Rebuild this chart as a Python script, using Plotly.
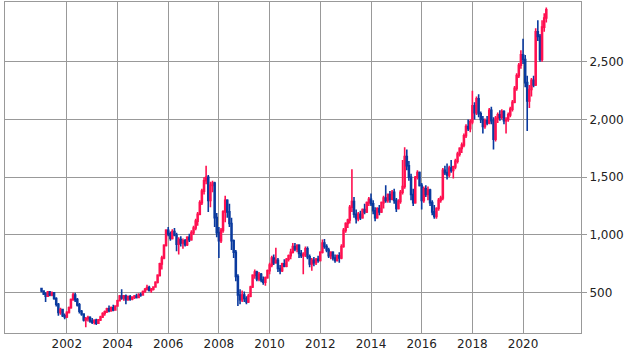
import pandas as pd
import plotly.graph_objects as go

# Monthly OHLC, Jan 2001 .. Dec 2020 (one row per year)
opens = [
    535, 515, 490, 470, 505, 480, 500, 450, 400, 330, 355, 300,
    290, 330, 370, 440, 480, 440, 395, 340, 315, 265, 275, 285,
    255, 245, 260, 235, 265, 290, 320, 335, 360, 345, 370, 350,
    385, 430, 470, 455, 470, 440, 465, 445, 460, 470, 460, 485,
    480, 510, 530, 545, 520, 530, 550, 590, 650, 750, 800, 910,
    1040, 1010, 970, 1030, 1000, 920, 960, 930, 950, 915, 980, 960,
    1020, 1060, 1120, 1180, 1280, 1380, 1470, 1500, 1300, 1430, 1450, 1150,
    1020, 950, 1040, 1200, 1300, 1200, 1100, 950, 850, 640, 480, 440,
    480, 450, 420, 470, 550, 650, 680, 620, 660, 610, 590, 630,
    690, 740, 800, 760, 780, 710, 690, 750, 730, 790, 820, 850,
    900, 880, 910, 840, 820, 830, 880, 810, 750, 780, 760, 790,
    780, 850, 930, 900, 870, 820, 850, 800, 780, 820, 800, 900,
    1040, 1100, 1130, 1240, 1290, 1180, 1140, 1180, 1150, 1220, 1200, 1280,
    1310, 1270, 1210, 1150, 1230, 1200, 1280, 1320, 1300, 1350, 1310, 1370,
    1300, 1230, 1290, 1370, 1420, 1680, 1600, 1500, 1350, 1280, 1500, 1540,
    1430, 1300, 1400, 1350, 1390, 1280, 1200, 1160, 1230, 1300, 1320, 1560,
    1540, 1520, 1580, 1560, 1590, 1640, 1700, 1750, 1780, 1860, 1940, 1920,
    1980, 2120, 2060, 2180, 2050, 2000, 1940, 1990, 1970, 2080, 1990, 1830,
    2010, 2040, 2020, 2070, 1990, 2000, 2040, 2090, 2150, 2270, 2380, 2470,
    2560, 2520, 2320, 2160, 2260, 2340, 2300, 2760, 2720, 2520, 2800, 2880,
]
highs = [
    540, 520, 505, 515, 515, 510, 505, 460, 410, 370, 360, 320,
    340, 380, 450, 500, 500, 455, 410, 350, 320, 290, 300, 295,
    280, 270, 275, 270, 300, 330, 345, 370, 390, 380, 395, 390,
    440, 480, 530, 480, 485, 475, 480, 470, 480, 490, 495, 500,
    520, 540, 570, 560, 540, 555, 600, 660, 760, 820, 920, 1050,
    1070, 1030, 1050, 1060, 1020, 980, 990, 970, 965, 990, 1010, 1040,
    1080, 1140, 1200, 1300, 1400, 1500, 1600, 1520, 1460, 1470, 1460, 1190,
    1070, 1060, 1215, 1340, 1310, 1270, 1150, 960, 870, 660, 530, 520,
    510, 470, 490, 560, 660, 700, 690, 680, 670, 640, 640, 700,
    760, 820, 830, 890, 800, 740, 760, 790, 800, 830, 880, 930,
    930, 920, 920, 870, 850, 900, 900, 830, 800, 810, 800, 820,
    860, 960, 965, 920, 890, 860, 860, 830, 830, 850, 920, 1060,
    1110, 1140, 1260, 1570, 1330, 1220, 1200, 1210, 1230, 1270, 1290, 1330,
    1360, 1300, 1240, 1240, 1260, 1290, 1340, 1430, 1360, 1380, 1390, 1400,
    1320, 1310, 1390, 1650, 1760, 1740, 1640, 1530, 1400, 1510, 1560, 1550,
    1450, 1420, 1430, 1420, 1400, 1300, 1260, 1240, 1320, 1340, 1580, 1600,
    1620, 1600, 1650, 1600, 1660, 1720, 1760, 1800, 1880, 1960, 2000, 2000,
    2250, 2150, 2200, 2220, 2070, 2030, 2010, 2030, 2100, 2110, 2020, 2030,
    2060, 2080, 2090, 2080, 2020, 2060, 2110, 2170, 2290, 2400, 2490, 2600,
    2700, 2560, 2380, 2300, 2360, 2380, 2790, 2860, 2740, 2860, 2920, 2970,
]
lows = [
    505, 480, 420, 465, 470, 470, 440, 380, 300, 310, 290, 270,
    280, 320, 360, 430, 420, 380, 320, 300, 250, 200, 250, 240,
    230, 225, 220, 230, 255, 280, 300, 325, 330, 335, 340, 345,
    380, 425, 440, 430, 400, 430, 430, 435, 445, 450, 455, 465,
    475, 500, 520, 510, 500, 520, 545, 580, 640, 700, 790, 900,
    990, 950, 960, 990, 860, 830, 900, 880, 900, 905, 940, 950,
    1000, 1040, 1080, 1170, 1260, 1350, 1440, 1200, 1240, 1370, 1070, 980,
    800, 930, 1020, 1110, 1150, 1070, 870, 800, 600, 385, 400, 420,
    420, 400, 410, 460, 540, 620, 600, 600, 590, 570, 560, 620,
    660, 720, 740, 750, 680, 660, 680, 720, 720, 770, 790, 840,
    860, 850, 800, 800, 660, 810, 790, 720, 690, 730, 740, 760,
    770, 840, 880, 850, 800, 790, 780, 760, 770, 760, 790, 890,
    1020, 1060, 1100, 1200, 1150, 1100, 1120, 1130, 1140, 1180, 1190, 1250,
    1250, 1180, 1120, 1140, 1170, 1190, 1230, 1280, 1280, 1280, 1300, 1270,
    1200, 1220, 1270, 1350, 1400, 1560, 1470, 1300, 1250, 1270, 1480, 1420,
    1220, 1280, 1330, 1300, 1250, 1170, 1140, 1140, 1210, 1280, 1300, 1520,
    1480, 1500, 1540, 1490, 1570, 1620, 1680, 1710, 1760, 1840, 1900, 1890,
    1960, 2000, 2040, 2020, 1970, 1880, 1920, 1950, 1960, 1960, 1740, 1810,
    1970, 1990, 2000, 1960, 1880, 1980, 2020, 2070, 2140, 2250, 2360, 2440,
    2480, 2280, 1900, 2100, 2200, 2280, 2290, 2680, 2500, 2500, 2760, 2840,
]
closes = [
    515, 490, 470, 505, 480, 500, 450, 400, 330, 355, 300, 290,
    330, 370, 440, 480, 440, 395, 340, 315, 265, 275, 285, 255,
    245, 260, 235, 265, 290, 320, 335, 360, 345, 370, 350, 385,
    430, 470, 455, 470, 440, 465, 445, 460, 470, 460, 485, 480,
    510, 530, 545, 520, 530, 550, 590, 650, 750, 800, 910, 1040,
    1010, 970, 1030, 1000, 920, 960, 930, 950, 915, 980, 960, 1020,
    1060, 1120, 1180, 1280, 1380, 1470, 1500, 1300, 1430, 1450, 1150, 1020,
    950, 1040, 1200, 1300, 1200, 1100, 950, 850, 640, 480, 440, 480,
    450, 420, 470, 550, 650, 680, 620, 660, 610, 590, 630, 690,
    740, 800, 760, 780, 710, 690, 750, 730, 790, 820, 850, 900,
    880, 910, 840, 820, 830, 880, 810, 750, 780, 760, 790, 780,
    850, 930, 900, 870, 820, 850, 800, 780, 820, 800, 900, 1040,
    1100, 1130, 1240, 1290, 1180, 1140, 1180, 1150, 1220, 1200, 1280, 1310,
    1270, 1210, 1150, 1230, 1200, 1280, 1320, 1300, 1350, 1310, 1370, 1300,
    1230, 1290, 1370, 1420, 1680, 1600, 1500, 1350, 1280, 1500, 1540, 1430,
    1300, 1400, 1350, 1390, 1280, 1200, 1160, 1230, 1300, 1320, 1560, 1540,
    1520, 1580, 1560, 1590, 1640, 1700, 1750, 1780, 1860, 1940, 1920, 1980,
    2120, 2060, 2180, 2050, 2000, 1940, 1990, 1970, 2080, 1990, 1830, 2010,
    2040, 2020, 2070, 1990, 2000, 2040, 2090, 2150, 2270, 2380, 2470, 2560,
    2520, 2320, 2160, 2260, 2340, 2300, 2760, 2720, 2520, 2800, 2880, 2950,
]
dates = pd.date_range("2001-01-01", periods=len(closes), freq="MS")

year_ticks = ["2002", "2004", "2006", "2008", "2010", "2012", "2014", "2016", "2018", "2020"]
price_ticks = [500, 1000, 1500, 2000, 2500]

UP = "#ff1050"
DOWN = "#0a3a9e"
GRID = "#999999"

fig = go.Figure(go.Candlestick(
    x=dates, open=opens, high=highs, low=lows, close=closes,
    increasing=dict(line=dict(color=UP, width=1.6), fillcolor=UP),
    decreasing=dict(line=dict(color=DOWN, width=1.6), fillcolor=DOWN),
    whiskerwidth=0,
    hoverinfo="x+y",
))

fig.update_layout(
    width=625, height=352,
    margin=dict(l=5, r=41, t=1, b=18),
    paper_bgcolor="white", plot_bgcolor="white",
    showlegend=False,
    font=dict(family="DejaVu Sans", size=12, color="#222222"),
    xaxis=dict(
        type="date",
        range=["1999-07-25", "2022-04-15"],
        tickvals=[pd.Timestamp(y + "-01-01") for y in year_ticks],
        ticktext=year_ticks,
        showgrid=True, gridcolor=GRID, gridwidth=1,
        showline=True, linecolor=GRID, linewidth=1, mirror=True,
        ticks="", rangeslider=dict(visible=False),
        zeroline=False,
    ),
    yaxis=dict(
        side="right",
        range=[151, 3018],
        tickvals=price_ticks,
        tickformat=",",
        showgrid=True, gridcolor=GRID, gridwidth=1,
        showline=True, linecolor=GRID, linewidth=1, mirror=True,
        ticks="outside", ticklen=5, tickcolor=GRID,
        zeroline=False,
    ),
)

fig.write_html("out.html")
